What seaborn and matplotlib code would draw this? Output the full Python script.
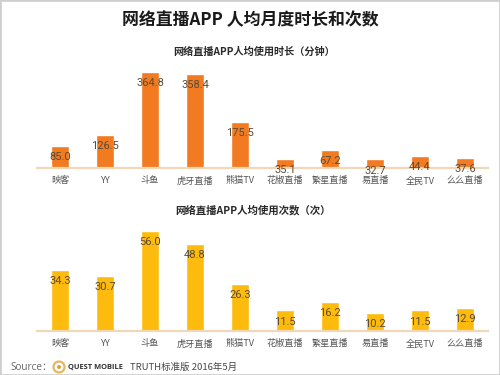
import matplotlib
matplotlib.use("Agg")
import matplotlib.pyplot as plt
from matplotlib.patches import Circle, Rectangle
import pandas as pd
import seaborn as sns

apps = ["映客", "YY", "斗鱼", "虎牙直播", "熊猫TV", "花椒直播", "繁星直播", "易直播", "全民TV", "么么直播"]
minutes = [85.0, 126.5, 364.8, 358.4, 175.5, 35.1, 67.2, 32.7, 44.4, 37.6]
sessions = [34.3, 30.7, 56.0, 48.8, 26.3, 11.5, 16.2, 10.2, 11.5, 12.9]

title = "网络直播APP 人均月度时长和次数"
sub_minutes = "网络直播APP人均使用时长（分钟）"
sub_sessions = "网络直播APP人均使用次数（次）"

sns.set_theme(style="white")
plt.rcParams["font.family"] = ["Noto Sans CJK SC", "DejaVu Sans"]

W, H = 500, 375
fig = plt.figure(figsize=(W / 100, H / 100), dpi=100, facecolor="white")


def make_axes(left, right, top, bottom):
    return fig.add_axes([left / W, 1 - bottom / H, (right - left) / W, (bottom - top) / H])


def panel(ax, values, color, ymax):
    df = pd.DataFrame({"app": apps, "value": values})
    sns.barplot(data=df, x="app", y="value", color=color, width=0.41, saturation=1, ax=ax)
    ax.set_xlim(-0.511, 9.511)
    ax.set_ylim(0, ymax)
    ax.set_xlabel("")
    ax.set_ylabel("")
    ax.set_yticks([])
    ax.patch.set_alpha(0)
    sns.despine(ax=ax, left=True)
    ax.spines["bottom"].set_color("#F1D6B8")
    ax.spines["bottom"].set_linewidth(1.6)
    ax.tick_params(axis="x", length=0, pad=6, labelsize=6.6, labelcolor="#555555")
    for x, v in enumerate(values):
        ax.annotate(f"{v:.1f}", (x, v), xytext=(0, -8), textcoords="offset points",
                    ha="center", va="center", fontsize=8, color="#5C4A32",
                    family="Roboto", annotation_clip=False, zorder=5)


ax1 = make_axes(37, 488, 60, 168)
panel(ax1, minutes, "#F27A21", 108 / (96 / 364.8))
ax2 = make_axes(37, 488, 220, 331)
panel(ax2, sessions, "#FDBB0D", 111 / (100 / 56.0))


def px_text(x, y, s, **kw):
    fig.text(x / W, 1 - y / H, s, va="center", **kw)


px_text(250, 20, title, ha="center", fontsize=12.2, fontweight="bold", color="#1A1A1A")
px_text(254, 52, sub_minutes, ha="center", fontsize=7.3, fontweight="bold", color="#2A2A2A")
px_text(253, 210, sub_sessions, ha="center", fontsize=7.5, fontweight="bold", color="#2A2A2A")

px_text(10, 367, "Source：", ha="left", fontsize=7.2, color="#666666",
        family=["Open Sans", "Noto Sans CJK SC"])
fig.add_artist(Circle((59, H - 367), 5.5, transform=None, fc="#FFFFFF", ec="#E3B765", lw=1.6))
fig.add_artist(Circle((59, H - 367), 2, transform=None, fc="#E0A030", ec="none"))
px_text(68, 367, "QUEST MOBILE", ha="left", fontsize=5.4, fontweight="bold", color="#333333", family="Open Sans")
px_text(130, 367, "TRUTH标准版 2016年5月", ha="left", fontsize=6.8, color="#444444")

fig.add_artist(Rectangle((0, 0), 1, 1, transform=fig.transFigure, fill=False, ec="#CFCFCF", lw=2))

fig.savefig("out.png", dpi=100, facecolor="white")
